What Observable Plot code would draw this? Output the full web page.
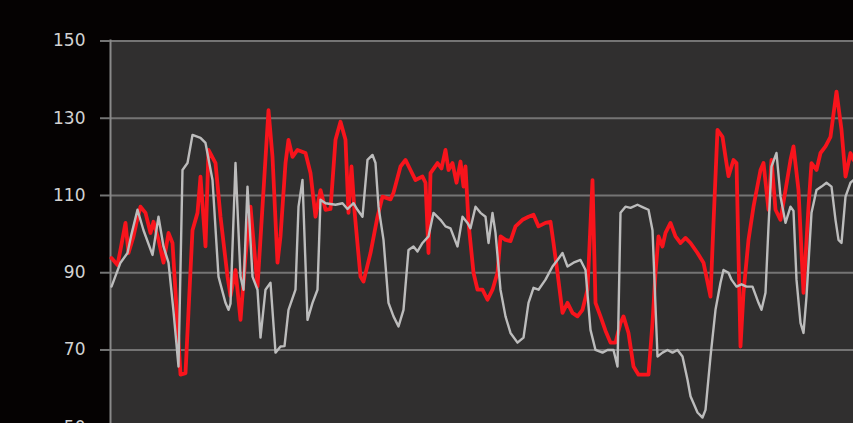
<!DOCTYPE html>
<html>
<head>
<meta charset="utf-8">
<script src="https://cdn.jsdelivr.net/npm/d3@7"></script>
<script src="https://cdn.jsdelivr.net/npm/@observablehq/plot@0.6"></script>
<style>
  html, body { margin: 0; padding: 0; background: #050202; overflow: hidden; }
  #chart { width: 853px; height: 423px; overflow: hidden; }
</style>
</head>
<body>
<div id="chart"></div>
<script>
const yTicks = [50, 70, 90, 110, 130, 150];

const redT = [0,3,4.5,7,8.5,11,12.5,14.5,17,19.5,21,23.5,26,28.5,30.5,32,34.5,37,38.5,40.5,43,44.5,47,48.5,52,54.5,58,59.5,62,64.5,67,69.5,73,75.5,78.5,80.5,83,84.5,87,88.5,90.5,93,97,99.5,102,104.5,107,109.5,112,114.5,117,118.5,120,121.5,124.5,126,129.5,133,135.5,139.5,141,144.5,147,149.5,152,155.5,157,158.5,159.5,163,165,167,168.5,170.5,172.5,174.5,176,177,178.5,181,183,185.5,188,190.5,193,194.5,197,199.5,202,205.5,208.5,211,213.5,217,219.5,221,223,225.5,228,230.5,233,235.5,238,240.5,242,244.5,247,249.5,252,254.5,256,258.5,261,263.5,266,268.5,270.5,272,273.5,275.5,277,279.5,282,284.5,287,289.5,293,296,299.5,301,303,305.5,307,308.5,311,312.5,314.5,316,318.5,321,324.5,326,328.5,330,332,334.5,337,339.5,341,343.5,346,348.5,350,352.5,354.5,357,359.5,362.5,365,367,369.5,371,373.5];
const redV = [93.8,92,96,102.9,95.1,99.4,103,107.1,105.5,100.3,103.2,98.5,92.6,100.3,97.7,85,63.6,64,80,101,105.5,114.9,96.8,121.8,118.4,104.5,89,84,90.7,77.8,94.2,107.1,86.4,107.1,132.1,120,92.6,99.4,118.4,124.4,120,121.8,121,115.8,104.5,111.4,106.3,106.5,124.4,129.1,124.4,105.5,117.5,106,89,87.7,95.1,104.5,109.7,109,110.7,117.5,119.2,116.6,114,114.9,113.3,95.1,115.8,118.4,117,121.8,116.6,118.4,113.3,118.8,112.3,117.5,102.9,90,85.6,85.6,83,85.6,90,99.4,98.5,98.2,102,103.7,104.5,105,102,102.9,103.2,97.7,90,79.6,82.2,79.6,78.7,80.4,85.6,114,82.2,78.7,75,71.9,71.9,77,78.7,74.4,65.7,63.6,63.6,63.6,77,90,99.4,96.8,100.3,102.9,99.4,97.7,99,97.7,95.1,92.6,83.8,102.9,127,125.2,120,115,119.2,118.4,70.9,84.8,98.5,107.1,116.6,118.4,106.3,119.2,106.3,103.7,111.4,119.2,122.7,111.4,84.8,107.1,118.4,116.6,121,122.7,125.2,136.9,127,114.9,121,119.2,118];

const grayT = [0,4.5,8,10,13,16,20.5,23.5,26,28.5,31,33.5,35.5,38,40.5,44.5,47,50.5,53.5,57,58.5,59.5,62,64.5,66,68,70.5,73,74.5,77,79.5,82,84.5,86.5,88.5,92,93.5,95.5,98,100.5,103,104.5,107,112,115.5,118,121,123,125.5,128,130.5,132,133.5,136,138.5,141,143.5,146,148.5,151,153,155.5,158.5,161,164.5,167,169.5,173,175.5,178,179.5,182,184.5,187,188.5,190.5,192,194.5,197,199.5,203,206,208.5,211,213.5,217,220.5,223,225.5,228,231,234.5,237,239.5,242,245.5,248,251,253,254.5,257,259.5,263,265.5,268.5,270.5,273,275.5,278,280.5,283,285.5,288,289.5,293,295.5,297,299.5,302,304.5,306,308.5,310,312.5,315,317.5,320.5,323.5,325,327,328.5,330,332.5,334.5,337,339.5,341,342.5,344.5,346,347.5,350,352.5,355,357.5,360,362,363.5,365,367,369.5,371,373.5];
const grayV = [86.4,92.6,95.1,100,106.3,101,94.6,104.5,96.8,92.6,80,65.7,116.6,118.4,125.7,124.9,123.6,114,89,82.2,80.4,82,118.4,89,85.6,112.3,89,85.6,73.2,85.6,87.4,69.3,70.9,71,80.4,85.6,107.1,114,77.8,82.2,85.6,108.9,108,107.6,108,106.5,108,106.3,104.5,119.2,120.5,118.4,107.1,98.5,82.2,78.7,76.1,80.4,95.9,96.8,95.5,97.7,99.4,105.5,103.7,102,101.5,96.8,104.5,102.9,101.5,107.1,105.5,104.5,97.7,105.5,100.3,85.6,78.7,74.4,71.9,73.2,82.2,86.1,85.6,88.2,91.6,93.3,95.1,91.6,92.6,93.3,90.7,75.2,70,69.3,70,70,65.7,105.5,107.1,106.8,107.6,107,106.3,101,68.3,69.3,70,69.3,70,68.3,62.3,58,53.8,52.5,54.5,68.3,80.4,87.4,90.7,90,88.2,86.4,87,86.4,86.4,82.2,80.4,84.8,102,117.5,121,109.7,102.9,107.1,106,88.2,77,74.4,83.8,105.5,111.4,112.3,113.3,112.3,103.7,98.5,97.7,109.7,113.3,114,113];

const red = redT.map((t, i) => ({t, v: redV[i]}));
const gray = grayT.map((t, i) => ({t, v: grayV[i]}));

const chart = Plot.plot({
  width: 853,
  height: 423,
  marginLeft: 110,
  marginTop: 40,
  marginRight: 0,
  marginBottom: 0,
  style: {background: "#050202", fontFamily: "DejaVu Sans", overflow: "hidden"},
  x: {domain: [0, 372], range: [111, 855], axis: null},
  y: {domain: [50, 150], range: [426.7, 40.5], axis: null},
  marks: [
    Plot.frame({fill: "#302f2f", stroke: null}),
    Plot.gridY(yTicks, {stroke: "#747474", strokeOpacity: 1, strokeWidth: 2}),
    Plot.frame({anchor: "left", stroke: "#8a8a8a", strokeWidth: 2}),
    Plot.axisY(yTicks, {label: null, tickSize: 10, tickPadding: 15, fontSize: 17, fill: "#d2d2d2", stroke: "#747474", strokeWidth: 2}),
    Plot.line(red, {x: "t", y: "v", stroke: "#f8141c", strokeWidth: 3.8, strokeLinejoin: "round"}),
    Plot.line(gray, {x: "t", y: "v", stroke: "#bcbcbc", strokeWidth: 2.4, strokeLinejoin: "round"})
  ]
});
document.getElementById("chart").appendChild(chart);
</script>
</body>
</html>
